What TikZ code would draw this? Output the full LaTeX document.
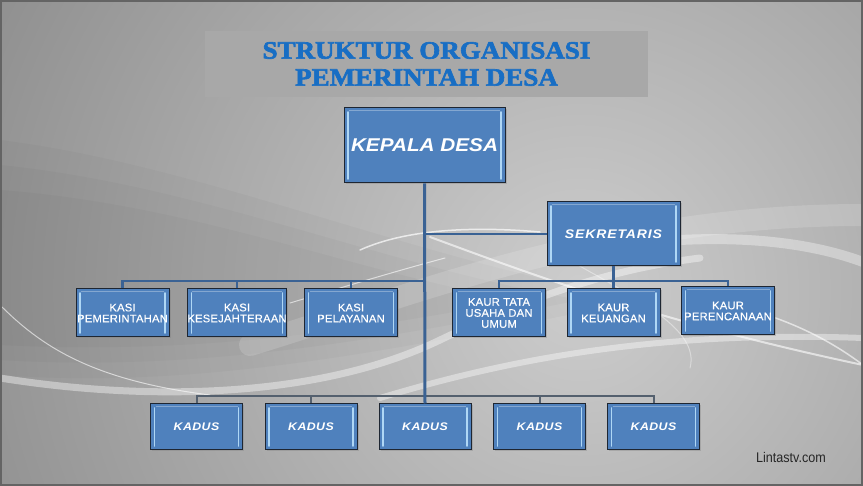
\documentclass[tikz,border=0pt]{standalone}
\usepackage{fontspec}
\setmainfont{Liberation Sans}
\newfontfamily\titlefont[FakeStretch=1.08,FakeBold=2.5]{Liberation Serif}
\newfontfamily\widesans[FakeStretch=1.12]{Liberation Sans}
\newfontfamily\unitsans[FakeStretch=1.02,FakeBold=0.4]{Liberation Sans}
\newfontfamily\narrowsans[FakeStretch=0.9]{Liberation Sans}
\usetikzlibrary{shadows}
\definecolor{boxblue}{RGB}{79,129,189}
\definecolor{boxedge}{RGB}{30,38,50}
\definecolor{bevel}{RGB}{175,215,245}
\definecolor{linkblue}{RGB}{58,98,148}
\definecolor{busgray}{RGB}{84,96,110}
\definecolor{titleblue}{RGB}{24,110,196}
\definecolor{titlebg}{RGB}{168,168,168}
\definecolor{bglight}{RGB}{205,205,205}
\definecolor{bgdark}{RGB}{128,128,128}
\definecolor{rim}{RGB}{100,100,100}
\tikzset{
  orgbox/.style={rectangle, fill=boxblue, draw=boxedge, line width=1pt, text=white,
    align=center, inner sep=0pt,
    drop shadow={shadow xshift=1.5pt, shadow yshift=-1.5pt, opacity=0.35},
    path picture={
      \draw[bevel, line width=1.6pt, line cap=round]
        ([xshift=4pt,yshift=-4pt]path picture bounding box.north west) --
        ([xshift=4pt,yshift=4pt]path picture bounding box.south west);
      \draw[bevel, line width=1.6pt, line cap=round]
        ([xshift=-4pt,yshift=-4pt]path picture bounding box.north east) --
        ([xshift=-4pt,yshift=4pt]path picture bounding box.south east);
      \draw[white, opacity=0.3, line width=0.8pt]
        ([xshift=5pt,yshift=-2pt]path picture bounding box.north west) --
        ([xshift=-5pt,yshift=-2pt]path picture bounding box.north east);
    }},
  kepalabox/.style={orgbox, minimum width=161pt, minimum height=75pt,
    font=\widesans\bfseries\itshape\fontsize{18.5}{20}\selectfont},
  sekbox/.style={orgbox, minimum width=133pt, minimum height=64pt,
    font=\widesans\bfseries\itshape\fontsize{12.5}{14}\selectfont\addfontfeature{LetterSpace=7}},
  unitbox/.style={orgbox, minimum width=93pt, minimum height=48pt,
    font=\unitsans\fontsize{11}{11}\selectfont\addfontfeature{LetterSpace=2}},
  kadusbox/.style={orgbox, minimum width=92pt, minimum height=46pt,
    font=\widesans\bfseries\itshape\fontsize{11}{12}\selectfont\addfontfeature{LetterSpace=4}},
  titlebox/.style={rectangle, fill=titlebg, minimum width=443pt, minimum height=66pt,
    inner sep=0pt, align=center, text=titleblue,
    font=\titlefont\bfseries\fontsize{25}{27}\selectfont},
  trunk/.style={draw=linkblue, line width=3pt},
  link/.style={draw=linkblue, line width=2.5pt},
  bus/.style={draw=busgray, line width=2pt},
  swoosh/.style={draw=white, line cap=round},
  shadeband/.style={fill=black, opacity=0.025},
}
\begin{document}
\begin{tikzpicture}[x=1pt, y=-1pt]
\useasboundingbox (0,0) rectangle (863,486);
% background
\fill[bgdark] (0,0) rectangle (863,486);
\begin{scope}
  \clip (0,0) rectangle (863,486);
  \shade[inner color=bglight, outer color=bgdark] (580,290) circle (820);
  \fill[shadeband] (0,140) .. controls (200,165) and (400,255) .. (640,300) .. controls (400,350) and (200,390) .. (0,375) -- cycle;
  \fill[shadeband] (0,165) .. controls (200,185) and (380,265) .. (580,300) .. controls (380,340) and (200,372) .. (0,360) -- cycle;
  \fill[shadeband] (0,190) .. controls (200,205) and (360,275) .. (520,300) .. controls (360,330) and (200,355) .. (0,345) -- cycle;
  \draw[swoosh, opacity=0.15, line width=22pt] (250,345) .. controls (400,300) and (600,215) .. (863,215);
  \draw[swoosh, opacity=0.4, line width=7pt] (0,378) .. controls (150,402) and (320,398) .. (440,340) .. controls (540,292) and (620,268) .. (700,258);
  \draw[swoosh, opacity=0.4, line width=6pt] (380,398) .. controls (500,362) and (650,330) .. (863,338);
  \draw[swoosh, opacity=0.6, line width=1pt] (0,305) .. controls (40,345) and (90,380) .. (210,395);
  \draw[swoosh, opacity=0.7, line width=1.5pt] (360,250) .. controls (400,232) and (460,225) .. (540,232);
  \draw[swoosh, opacity=0.6, line width=1pt] (290,303) .. controls (350,285) and (400,270) .. (445,258);
  \draw[swoosh, opacity=0.6, line width=2pt] (430,237) .. controls (520,270) and (650,320) .. (863,365);
  \draw[swoosh, opacity=0.35, line width=10pt] (680,240) .. controls (760,236) and (820,246) .. (863,262);
  \draw[swoosh, opacity=0.6, line width=1.5pt] (740,307) .. controls (790,320) and (830,340) .. (863,365);
  \draw[swoosh, opacity=0.4, line width=1pt] (560,255) .. controls (640,300) and (700,330) .. (690,368);
\end{scope}
\draw[rim, line width=2pt] (1,1) rectangle (862,485);
% title
\node[titlebox] (title) at (426.5,64) {STRUKTUR ORGANISASI\\PEMERINTAH DESA};
% nodes
\node[kepalabox] (kepala) at (424.5,145.5) {KEPALA DESA};
\node[sekbox] (sek) at (613.5,234) {SEKRETARIS};
\node[unitbox] (kasi1) at (122.5,313) {KASI\\PEMERINTAHAN};
\node[unitbox] (kasi2) at (237,313) {KASI\\KESEJAHTERAAN};
\node[unitbox] (kasi3) at (351,313) {KASI\\PELAYANAN};
\node[unitbox] (kaur1) at (499,313) {KAUR TATA\\USAHA DAN\\UMUM};
\node[unitbox] (kaur2) at (613.5,313) {KAUR\\KEUANGAN};
\node[unitbox] (kaur3) at (728,311) {KAUR\\PERENCANAAN};
\node[kadusbox] (kadus1) at (196.5,427) {KADUS};
\node[kadusbox] (kadus2) at (311,427) {KADUS};
\node[kadusbox] (kadus3) at (425,427) {KADUS};
\node[kadusbox] (kadus4) at (539.5,427) {KADUS};
\node[kadusbox] (kadus5) at (653.5,427) {KADUS};
\node[font=\narrowsans\fontsize{14}{16}\selectfont, text=black!85] (credit) at (791,457) {Lintastv.com};
% connectors
\coordinate (lbus) at (425,281);
\coordinate (rbus) at (613.5,281);
\coordinate (bbus) at (425,396);
\draw[link] (kasi1.north) -- (kasi1.north |- lbus) -- (lbus);
\draw[link] (kasi2.north) -- (kasi2.north |- lbus);
\draw[link] (kasi3.north) -- (kasi3.north |- lbus);
\draw[link] (sek.west) -- (sek.west -| kepala.south);
\draw[link] (kaur1.north) -- (kaur1.north |- rbus) -- (kaur3.north |- rbus) -- (kaur3.north);
\draw[link] (sek.south) -- (kaur2.north);
\draw[bus] (kadus1.north) -- (kadus1.north |- bbus) -- (kadus5.north |- bbus) -- (kadus5.north);
\draw[bus] (kadus2.north) -- (kadus2.north |- bbus);
\draw[bus] (kadus4.north) -- (kadus4.north |- bbus);
\draw[trunk] (kepala.south) -- (kadus3.north);
\end{tikzpicture}
\end{document}
